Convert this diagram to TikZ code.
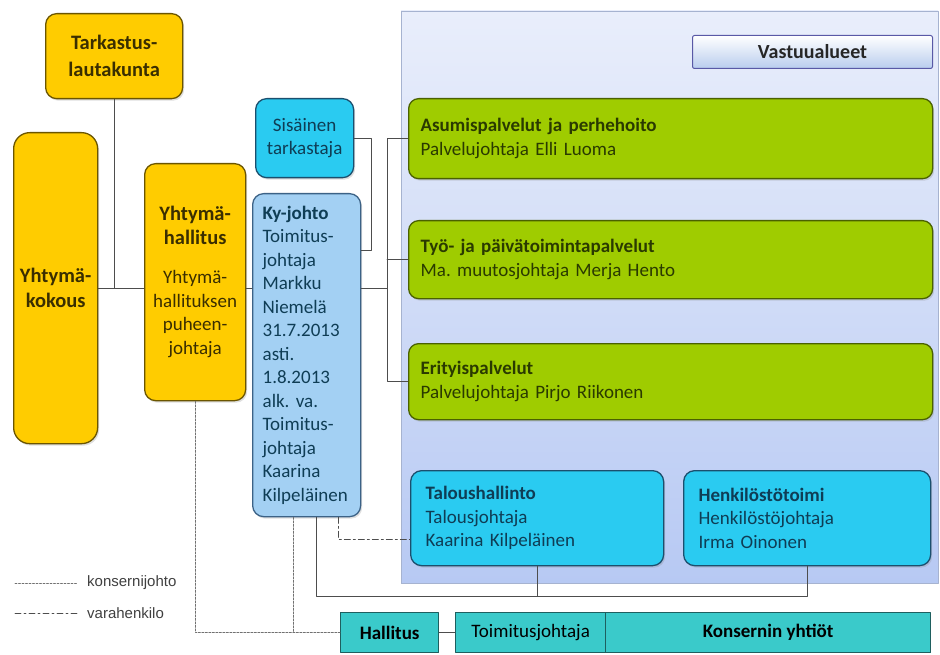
\documentclass[tikz,border=0pt]{standalone}
\usepackage{fontspec}
\setmainfont{Carlito}
\newfontfamily\selitefont{Liberation Sans}
\usetikzlibrary{shadows}
\frenchspacing
\definecolor{keltainen}{HTML}{FFCC00}
\definecolor{keltareuna}{HTML}{6B5500}
\definecolor{keltateksti}{HTML}{3A2E00}
\definecolor{syaani}{HTML}{2ACBF1}
\definecolor{syaanireuna}{HTML}{1B4F6E}
\definecolor{syaaniteksti}{HTML}{0F3D55}
\definecolor{vaalea}{HTML}{A3D0F3}
\definecolor{vaaleareuna}{HTML}{3C6286}
\definecolor{vihrea}{HTML}{9FCC00}
\definecolor{vihreareuna}{HTML}{4A6100}
\definecolor{vihreateksti}{HTML}{2A3A00}
\definecolor{turkoosi}{HTML}{3ACACA}
\definecolor{turkoosireuna}{HTML}{1E5F5F}
\definecolor{paneeliyla}{HTML}{E9EEFB}
\definecolor{paneeliala}{HTML}{B7C9F3}
\definecolor{otsikkoala}{HTML}{B9CDEE}
\definecolor{viiva}{HTML}{4D4D4D}
\begin{document}
\spaceskip=3.4pt plus 1pt minus 0.5pt
\begin{tikzpicture}[x=1pt,y=-1pt, line join=round, line cap=round,
    font=\fontsize{19}{23.5}\selectfont,
    varjo/.style={drop shadow={opacity=0.25, shadow xshift=1.5pt, shadow yshift=-2pt}},
    laatikko/.style={draw, line width=1.3pt, rounded corners=11pt, inner sep=0pt, anchor=north west},
    kelta/.style={laatikko, varjo, draw=keltareuna, fill=keltainen, text=keltateksti, align=center},
    syaani/.style={laatikko, varjo, draw=syaanireuna, fill=syaani, text=syaaniteksti},
    vihrea/.style={laatikko, varjo, draw=vihreareuna, fill=vihrea, text=vihreateksti, rounded corners=10pt,
        inner xsep=12pt, align=left, minimum width=524},
    turkoosi/.style={laatikko, draw=turkoosireuna, fill=turkoosi, rounded corners=0pt, minimum height=40, text=black},
    yhteys/.style={draw=viiva, line width=0.9pt},
    konserni/.style={draw=viiva!80, line width=0.9pt, dash pattern=on 2pt off 1.5pt},
    vara/.style={draw=viiva, line width=0.9pt, dash pattern=on 6pt off 3pt on 2pt off 3pt}]
\useasboundingbox (0,0) rectangle (940,655);
% vastuualueiden tausta
\shade[top color=paneeliyla, bottom color=paneeliala] (401,11) rectangle (938,583);
\draw[draw=paneeliala!70!gray, line width=0.8pt] (401,11) rectangle (938,583);
\node[laatikko, rounded corners=2pt, draw=gray!70!blue, line width=1pt, top color=white, bottom color=otsikkoala,
    minimum width=240, minimum height=33, font=\fontsize{20}{24}\selectfont\bfseries, text=black!85] (vastuu) at (692,35) {Vastuualueet};
% toimielimet
\node[kelta, minimum width=137, minimum height=85, font=\fontsize{20.5}{27}\selectfont\bfseries] (tark) at (45,13) {Tarkastus-\\lautakunta};
\node[kelta, rounded corners=16pt, minimum width=84, minimum height=311, font=\fontsize{20.5}{25}\selectfont\bfseries] (kokous) at (13,132) {Yhtymä-\\kokous};
\node[kelta, minimum width=101, minimum height=237] (hallitus) at (144,163) {\fontsize{20.5}{25}\selectfont\bfseries Yhtymä-\\\fontsize{20.5}{25}\selectfont\bfseries hallitus\\[16pt]Yhtymä-\\hallituksen\\puheen-\\johtaja};
\node[syaani, align=center, minimum width=98, minimum height=79] (sis) at (255,98) {Sisäinen\\tarkastaja};
\node[laatikko, varjo, draw=vaaleareuna, fill=vaalea, text=syaaniteksti, align=left, inner xsep=10pt, text width=88,
    minimum width=108, minimum height=323] (kyjohto) at (252,193)
    {\textbf{Ky-johto}\\Toimitus-\\johtaja\\Markku\\Niemelä\\31.7.2013\\asti.\\1.8.2013\\alk. va.\\Toimitus-\\johtaja\\Kaarina\\Kilpeläinen};
% vastuualueet
\node[vihrea, text width=500, minimum height=80] (asum) at (408,98) {\textbf{Asumispalvelut ja perhehoito}\\Palvelujohtaja Elli Luoma};
\node[vihrea, text width=500, minimum height=78] (tyo) at (408,220) {\textbf{Työ- ja päivätoimintapalvelut}\\Ma. muutosjohtaja Merja Hento};
\node[vihrea, text width=500, minimum height=76] (erit) at (408,343) {\textbf{Erityispalvelut}\\Palvelujohtaja Pirjo Riikonen};
\node[syaani, align=left, inner xsep=15pt, text width=223, minimum width=253, minimum height=95] (talous) at (410,470)
    {\textbf{Taloushallinto}\\Talousjohtaja\\Kaarina Kilpeläinen};
\node[syaani, align=left, inner xsep=15pt, text width=217, minimum width=247, minimum height=95] (henk) at (683,470)
    {\textbf{Henkilöstötoimi}\\Henkilöstöjohtaja\\Irma Oinonen};
% konserni
\node[turkoosi, minimum width=98, font=\fontsize{19}{23}\selectfont\bfseries] (hall) at (340,612) {Hallitus};
\node[turkoosi, minimum width=150] (toimjoht) at (455,612) {Toimitusjohtaja};
\node[turkoosi, minimum width=325, font=\fontsize{19}{23}\selectfont\bfseries] (yhtiot) at (605,612) {Konsernin yhtiöt};
% selitteet
\node[anchor=west, inner sep=0pt, font=\selitefont\fontsize{15}{18}\selectfont, text=black!75] (konsteksti) at (87,583) {konsernijohto};
\node[anchor=west, inner sep=0pt, font=\selitefont\fontsize{15}{18}\selectfont, text=black!75] (varateksti) at (87,613) {varahenkilo};
\coordinate (konsalku) at (15,583);
\coordinate (vara_alku) at (15,613);
\draw[konserni] (konsalku) -- ([xshift=-9pt]konsteksti.west);
\draw[vara] (vara_alku) -- ([xshift=-9pt]varateksti.west);
% yhteydet
\coordinate (haara) at (387,288);
\coordinate (pohja) at (316,596);
\draw[yhteys] (tark.south) -- (tark.south |- kokous.east);
\draw[yhteys] (kokous.east) -- (kokous.east -| hallitus.west);
\draw[yhteys] (hallitus.east |- haara) -- (kyjohto.west |- haara);
\draw[yhteys] (sis.east) -- ++(17,0) |- (kyjohto.east |- 0,250);
\draw[yhteys] (kyjohto.east |- haara) -- (haara);
\draw[yhteys] (asum.west) -- (asum.west -| haara) |- (erit.west);
\draw[yhteys] (tyo.west) -- (tyo.west -| haara);
\draw[yhteys] (kyjohto.south -| pohja) -- (pohja) -| (henk.south);
\draw[yhteys] (talous.south) -- (talous.south |- pohja);
\draw[yhteys] (hall.east) -- (toimjoht.west);
\draw[vara] (kyjohto.south -| 338,0) |- (talous.west |- 0,539);
\draw[konserni] (hallitus.south) |- (hall.west);
\draw[konserni] (kyjohto.south -| 293,0) -- (hall.west -| 293,0);
\end{tikzpicture}
\end{document}
